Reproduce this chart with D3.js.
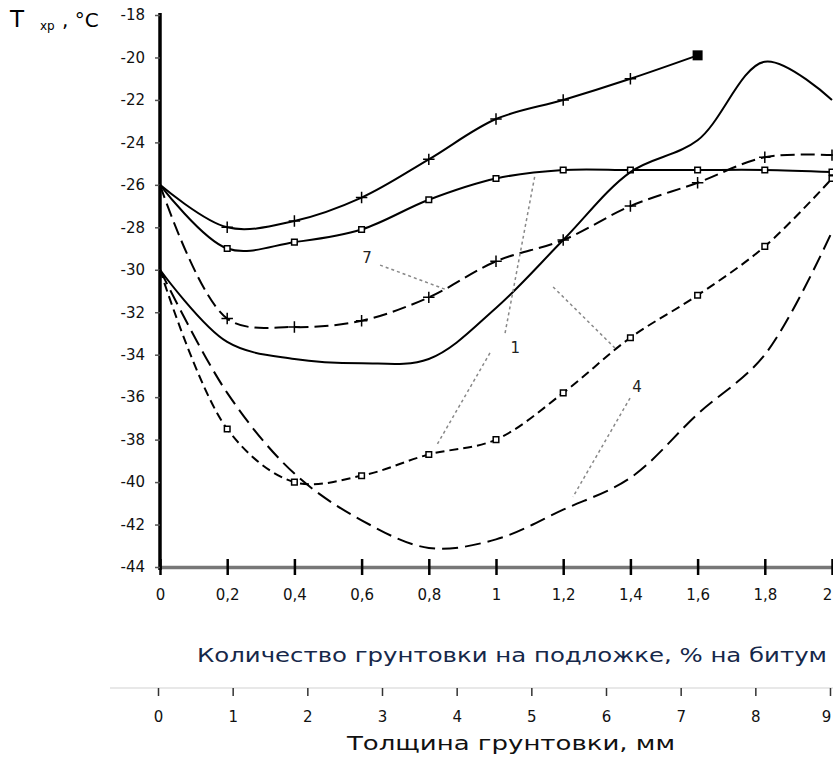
<!DOCTYPE html>
<html>
<head>
<meta charset="utf-8">
<script src="https://cdn.jsdelivr.net/npm/d3@7"></script>
<style>
  body { margin: 0; background: #fff; }
  text { font-family: "DejaVu Sans", "Liberation Sans", Arial, sans-serif; }
</style>
</head>
<body>
<div id="chart"></div>
<script>
// values
let modifier = [0, 0.2, 0.4, 0.6, 0.8, 1, 1.2, 1.4, 1.6, 1.8, 2];
let modifierLabels = ["0", "0,2", "0,4", "0,6", "0,8", "1", "1,2", "1,4", "1,6", "1,8", "2"];
let thickness = [0, 1, 2, 3, 4, 5, 6, 7, 8, 9];
let tempTicks = [-44, -42, -40, -38, -36, -34, -32, -30, -28, -26, -24, -22, -20, -18];

let curveA = [-26, -28.0, -27.7, -26.6, -24.8, -22.9, -22.0, -21.0, -19.9, null, null];
let curveB = [-26, -29.0, -28.7, -28.1, -26.7, -25.7, -25.3, -25.3, -25.3, -25.3, -25.4];
let curveC = [-30, -33.4, -34.2, -34.4, -34.2, -31.8, -28.6, -25.4, -23.9, -20.2, -22.0];
let curveD = [-26, -32.3, -32.7, -32.4, -31.3, -29.6, -28.6, -27.0, -25.9, -24.7, -24.6];
let curveF = [-30, -37.5, -40.0, -39.7, -38.7, -38.0, -35.8, -33.2, -31.2, -28.9, -25.7];
let curveG = [-30, -35.8, -39.6, -41.8, -43.1, -42.7, -41.3, -39.8, -36.8, -34.0, -28.2];

let curveLabels = ["7", "1", "4"];
let curveLabelX = [0.616, 1.057, 1.42];
let curveLabelY = [-29.45, -33.68, -35.52];
// leader lines: [x1, y1, x2, y2] in data units
let leaders = [
  [0.655, -29.78, 0.854, -30.95],
  [1.027, -32.98, 1.116, -25.54],
  [0.982, -33.92, 0.824, -38.25],
  [1.170, -30.81, 1.360, -33.78],
  [1.399, -36.04, 1.229, -40.70]
];

let allCurves = [curveA, curveB, curveC, curveD, curveF, curveG];
let curveStyle = [
  {dash: null, marker: "plus"},
  {dash: null, marker: "square"},
  {dash: null, marker: null},
  {dash: "14,6", marker: "plus"},
  {dash: "9,5", marker: "square"},
  {dash: "16,7", marker: null}
];

let margin = {top: 15, right: 1, bottom: 193, left: 160};
let width = 833 - margin.left - margin.right;
let height = 760 - margin.top - margin.bottom;

let root = d3.select("#chart")
             .append("svg")
             .attr("width", 833)
             .attr("height", 760);

let svg = root.append("g")
              .attr("transform", "translate(" + margin.left + "," + margin.top + ")");

let x = d3.scaleLinear().domain([0, 2]).range([0, width]);
let y = d3.scaleLinear().domain([-44, -18]).range([height, 0]);
let x2 = d3.scaleLinear().domain([0, 9]).range([-2, 670]);

// bottom axis (modifier)
let xAxis = svg.append("g")
   .attr("transform", "translate(0," + height + ")")
   .call(d3.axisBottom(x).tickValues(modifier).tickSize(8).tickSizeOuter(0)
           .tickFormat(function(d, i) { return modifierLabels[i]; }));
xAxis.select(".domain").attr("stroke", "#777").attr("stroke-width", 3.5);
xAxis.selectAll(".tick line").attr("y1", -8).attr("stroke", "#000").attr("stroke-width", 2.5);
xAxis.selectAll(".tick text").attr("y", 22).attr("font-size", 15).attr("fill", "#111")
     .attr("dx", function(d, i) { return i == modifier.length - 1 ? -5 : 0; });

// left axis (temperature)
let yAxis = svg.append("g")
   .call(d3.axisLeft(y).tickValues(tempTicks).tickSize(5).tickSizeOuter(0)
           .tickFormat(function(d) { return String(d); }));
yAxis.select(".domain").attr("stroke", "#000").attr("stroke-width", 3.5)
     .attr("d", "M0,-2V" + (height + 3));
yAxis.selectAll(".tick line").attr("stroke", "#555").attr("stroke-width", 1.5);
yAxis.selectAll(".tick text").attr("x", -15).attr("font-size", 15).attr("fill", "#111");

// second scale (thickness)
let x2Axis = svg.append("g")
   .attr("transform", "translate(0," + (688 - margin.top) + ")")
   .call(d3.axisBottom(x2).tickValues(thickness).tickSize(8).tickSizeOuter(0));
x2Axis.select(".domain").attr("stroke", "#e8e8e8").attr("stroke-width", 2)
      .attr("d", "M-50,0H673");
x2Axis.selectAll(".tick line").attr("stroke", "#333").attr("stroke-width", 1.5);
x2Axis.selectAll(".tick text").attr("y", 23).attr("font-size", 15).attr("fill", "#111")
      .attr("dx", function(d, i) { return i == thickness.length - 1 ? -4 : 0; });

// curves (smoothed like the original)
let line = d3.line()
             .defined(function(d) { return d != null; })
             .x(function(d, i) { return x(modifier[i]); })
             .y(function(d) { return y(d); })
             .curve(d3.curveCatmullRom.alpha(0.5));

let lastA = 8;

allCurves.forEach(function(values, k) {
  let st = curveStyle[k];
  svg.append("path")
     .attr("d", line(values))
     .attr("fill", "none")
     .attr("stroke", "#000")
     .attr("stroke-width", 2)
     .attr("stroke-dasharray", st.dash);

  if (!st.marker) return;
  let sym = st.marker == "square" ? (d3.symbolSquare2 || d3.symbolSquare)
                                  : (d3.symbolPlus || d3.symbolCross);
  let pts = [];
  values.forEach(function(v, i) {
    if (v != null && i > 0 && !(k == 0 && i == lastA)) pts.push(i);
  });
  svg.append("g").selectAll("path")
     .data(pts)
     .enter().append("path")
       .attr("transform", function(i) { return "translate(" + x(modifier[i]) + "," + y(values[i]) + ")"; })
       .attr("d", d3.symbol().type(sym).size(st.marker == "square" ? 40 : 45))
       .attr("fill", st.marker == "square" ? "#fff" : "none")
       .attr("stroke", "#000")
       .attr("stroke-width", 1.5);
});

// end marker of curve A
svg.append("rect")
   .attr("x", x(modifier[lastA]) - 5)
   .attr("y", y(curveA[lastA]) - 5)
   .attr("width", 10)
   .attr("height", 10)
   .attr("fill", "#000");

// leader lines and curve numbers
svg.append("g").selectAll("line")
   .data(leaders)
   .enter().append("line")
     .attr("x1", function(d) { return x(d[0]); })
     .attr("y1", function(d) { return y(d[1]); })
     .attr("x2", function(d) { return x(d[2]); })
     .attr("y2", function(d) { return y(d[3]); })
     .attr("stroke", "#888")
     .attr("stroke-width", 1.5)
     .attr("stroke-dasharray", "3,3");

svg.append("g").selectAll("text")
   .data(curveLabels)
   .enter().append("text")
     .attr("x", function(d, i) { return x(curveLabelX[i]); })
     .attr("y", function(d, i) { return y(curveLabelY[i]); })
     .attr("dy", ".35em")
     .attr("text-anchor", "middle")
     .attr("font-size", 15)
     .attr("fill", "#222")
     .text(function(d) { return d; });

// titles
svg.append("text")
   .attr("x", 37)
   .attr("y", 662 - margin.top)
   .attr("font-size", 20)
   .attr("fill", "#16284a")
   .attr("textLength", 630)
   .attr("lengthAdjust", "spacingAndGlyphs")
   .text("Количество грунтовки на подложке, % на битум");

svg.append("text")
   .attr("x", 187)
   .attr("y", 750 - margin.top)
   .attr("font-size", 20)
   .attr("fill", "#111")
   .attr("textLength", 328)
   .attr("lengthAdjust", "spacingAndGlyphs")
   .text("Толщина грунтовки, мм");

let yTitle = root.append("text")
   .attr("y", 27)
   .attr("fill", "#000");
yTitle.append("tspan").attr("x", 10).attr("font-size", 23).text("Т");
yTitle.append("tspan").attr("x", 40).attr("dy", 3).attr("font-size", 12).text("хр");
yTitle.append("tspan").attr("x", 62).attr("dy", -3).attr("font-size", 20).text(", °С");
</script>
</body>
</html>
